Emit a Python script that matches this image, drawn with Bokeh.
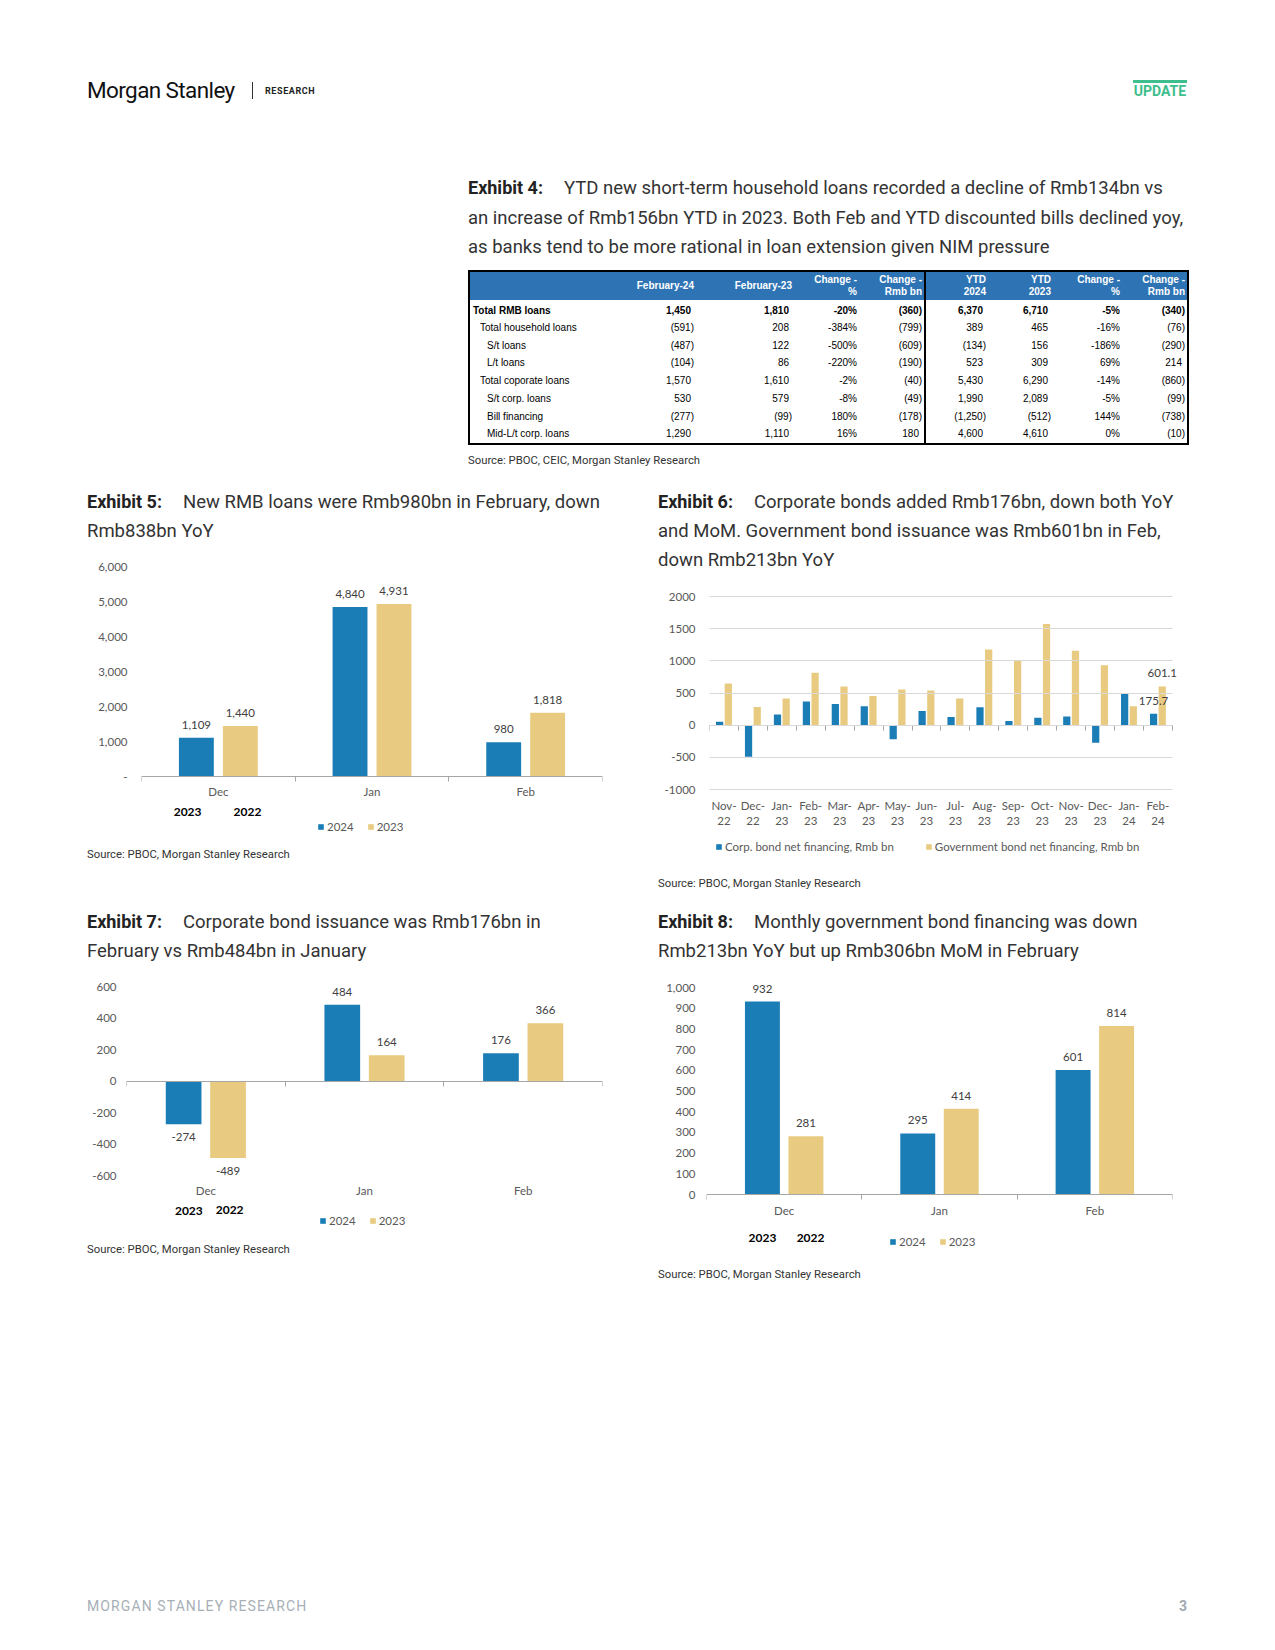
import numpy as np
from bokeh.plotting import figure
from bokeh.models import (Range1d, FixedTicker, NumeralTickFormatter, ColumnDataSource,
                          Legend, LegendItem, Label, Div, Spacer, LinearAxis)
from bokeh.layouts import column, row
from bokeh.transform import dodge
from bokeh.core.properties import value
from bokeh.embed import file_html
from bokeh.resources import INLINE

BLUE = "#1A7DB6"
TAN = "#E8CB80"
AXIS_GRAY = "#A6A6A6"
GRID_GRAY = "#D9D9D9"
TICK_TXT = "#595959"
LBL_TXT = "#404040"
CF = "Lato"

# ---------------- Exhibit 4 (table) ----------------
tbl_rows = ["Total RMB loans", "Total household loans", "S/t loans", "L/t loans",
            "Total coporate loans", "S/t corp. loans", "Bill financing", "Mid-L/t corp. loans"]
tbl_indent = [0, 1, 2, 2, 1, 2, 2, 2]
tbl_head = ["February-24", "February-23", "Change -<br>%", "Change -<br>Rmb bn",
            "YTD<br>2024", "YTD<br>2023", "Change -<br>%", "Change -<br>Rmb bn"]
feb24 = [1450, -591, -487, -104, 1570, 530, -277, 1290]
feb23 = [1810, 208, 122, 86, 1610, 579, -99, 1110]
chg_pct_m = [-20, -384, -500, -220, -2, -8, 180, 16]
chg_rmb_m = [-360, -799, -609, -190, -40, -49, -178, 180]
ytd24 = [6370, 389, -134, 523, 5430, 1990, -1250, 4600]
ytd23 = [6710, 465, 156, 309, 6290, 2089, -512, 4610]
chg_pct_y = [-5, -16, -186, 69, -14, -5, 144, 0]
chg_rmb_y = [-340, -76, -290, 214, -860, -99, -738, -10]

# ---------------- Exhibit 5 ----------------
ex5_cats = ["Dec", "Jan", "Feb"]
ex5_2024 = [1109, 4840, 980]
ex5_2023 = [1440, 4931, 1818]
ex5_ticks = [0, 1000, 2000, 3000, 4000, 5000, 6000]

# ---------------- Exhibit 6 ----------------
ex6_months = ["Nov-22", "Dec-22", "Jan-23", "Feb-23", "Mar-23", "Apr-23", "May-23", "Jun-23",
              "Jul-23", "Aug-23", "Sep-23", "Oct-23", "Nov-23", "Dec-23", "Jan-24", "Feb-24"]
ex6_corp = [53, -489, 164, 366, 330, 294, -220, 219, 126, 277, 63, 115, 136, -274, 484, 175.7]
ex6_gov = [649, 281, 414, 814, 602, 455, 555, 540, 414, 1178, 1000, 1571, 1157, 932, 295, 601.1]
ex6_ticks = [-1000, -500, 0, 500, 1000, 1500, 2000]

# ---------------- Exhibit 7 ----------------
ex7_cats = ["Dec", "Jan", "Feb"]
ex7_2024 = [-274, 484, 176]
ex7_2023 = [-489, 164, 366]
ex7_ticks = [-600, -400, -200, 0, 200, 400, 600]

# ---------------- Exhibit 8 ----------------
ex8_cats = ["Dec", "Jan", "Feb"]
ex8_2024 = [932, 295, 601]
ex8_2023 = [281, 414, 814]
ex8_ticks = [0, 100, 200, 300, 400, 500, 600, 700, 800, 900, 1000]


def chart(cats, s1, s2, names, ticks, W, H, bl, br, fig_top, anchor_top, anchor_bot,
          off, bw, fmt="0,0", zero_dash=False, y_stand=12, x_stand=4, zero_mid=False,
          legend_loc=(0, 0), legend_spacing=13, years=None, labels="all",
          grid_len=None, x_extra=0.0):
    """anchor_top / anchor_bot: (data value, page y in px) used to place the frame."""
    n = len(cats)
    (vt, pyt), (vb, pyb) = anchor_top, anchor_bot
    k = (pyb - pyt) / (vt - vb)                # px per unit
    y1 = vt + (pyt - fig_top) / k
    y0 = vb - (fig_top + H - pyb) / k

    def to_data(py):
        return vb + (pyb - py) / k

    p = figure(width=W, height=H, x_range=Range1d(0, n + x_extra), y_range=Range1d(y0, y1),
               output_backend="svg", toolbar_location=None, x_axis_type=None, y_axis_type=None,
               min_border_left=bl, min_border_right=br, min_border_top=0, min_border_bottom=0)
    p.outline_line_color = None
    p.margin = 0

    yax = LinearAxis(ticker=FixedTicker(ticks=ticks), formatter=NumeralTickFormatter(format=fmt),
                     axis_line_color=None, major_tick_line_color=None, minor_tick_line_color=None,
                     major_tick_in=0, major_tick_out=0, major_label_standoff=y_stand,
                     major_label_text_font=CF, major_label_text_font_size="11.5px",
                     major_label_text_color=TICK_TXT)
    if grid_len:
        yax.major_tick_line_color = GRID_GRAY
        yax.major_tick_in = grid_len
    if zero_dash:
        yax.major_label_overrides = {0: "-"}
    p.add_layout(yax, "left")

    centers = [i + 0.5 for i in range(n)]
    bounds = [float(i) for i in range(n + 1)]
    xax = LinearAxis(fixed_location=min(ticks), bounds=(0, n),
                     ticker=FixedTicker(ticks=centers, minor_ticks=bounds),
                     major_label_overrides={c: lab for c, lab in zip(centers, cats)},
                     major_tick_line_color=None, major_tick_in=0, major_tick_out=0,
                     minor_tick_in=0, minor_tick_out=5, minor_tick_line_color=AXIS_GRAY,
                     axis_line_color=AXIS_GRAY, major_label_standoff=x_stand,
                     major_label_text_font=CF, major_label_text_font_size="11.5px",
                     major_label_text_color=TICK_TXT)
    if zero_mid:
        xax.axis_line_color = None
        xax.minor_tick_line_color = None
        zax = LinearAxis(fixed_location=0, bounds=(0, n),
                         ticker=FixedTicker(ticks=[], minor_ticks=bounds),
                         axis_line_color=AXIS_GRAY, major_tick_line_color=None,
                         minor_tick_in=0, minor_tick_out=5, minor_tick_line_color=AXIS_GRAY,
                         major_label_text_font_size="0px")
        p.add_layout(zax, "below")
    p.add_layout(xax, "below")

    a_off = [-13 if v >= 0 else 13 for v in s1]
    b_off = [-13 if v >= 0 else 13 for v in s2]
    src = ColumnDataSource(dict(x=centers, a=list(s1), b=list(s2),
                                la=[f"{v:,}" for v in s1], lb=[f"{v:,}" for v in s2],
                                oa=a_off, ob=b_off))
    r1 = p.vbar(x=dodge("x", -off), top="a", bottom=0, width=bw, fill_color=BLUE, line_color=None, source=src)
    r2 = p.vbar(x=dodge("x", off), top="b", bottom=0, width=bw, fill_color=TAN, line_color=None, source=src)

    if labels == "all":
        lsrc = src
    else:
        kk = n - 1
        lsrc = ColumnDataSource(dict(x=[centers[kk]], a=[s1[kk]], b=[s2[kk]],
                                     la=[f"{s1[kk]}"], lb=[f"{s2[kk]}"], oa=[-13], ob=[-13]))
    p.text(x=dodge("x", -off), y="a", text="la", y_offset="oa", source=lsrc,
           text_font=value(CF), text_font_size="11.5px", text_color=LBL_TXT,
           text_align="center", text_baseline="middle")
    p.text(x=dodge("x", off), y="b", text="lb", y_offset="ob", source=lsrc,
           text_font=value(CF), text_font_size="11.5px", text_color=LBL_TXT,
           text_align="center", text_baseline="middle")

    leg = Legend(items=[LegendItem(label=names[0], renderers=[r1]),
                        LegendItem(label=names[1], renderers=[r2])],
                 location=legend_loc, orientation="horizontal", glyph_width=7, glyph_height=7,
                 label_height=12, label_standoff=3, spacing=legend_spacing, padding=0, margin=0,
                 border_line_color=None, background_fill_alpha=0,
                 label_text_font=CF, label_text_font_size="11.5px", label_text_color=TICK_TXT)
    p.add_layout(leg)

    if years:
        for (xx, py, t) in years:
            p.add_layout(Label(x=xx, y=to_data(py), text=t, text_font=CF, text_font_size="12px",
                               text_font_style="bold", text_color="#000000",
                               text_align="center", text_baseline="middle"))
    return p


def title_div(num, lines, W, H, pl, pt=7):
    html = (f'<div style="font-family:Roboto,sans-serif;font-size:18.5px;line-height:29px;color:#333;'
            f'white-space:nowrap;padding:{pt}px 0 0 {pl}px;">'
            f'<span style="display:inline-block;width:96px;font-weight:bold;font-size:18px;color:#222;">Exhibit {num}:</span>'
            + "<br>".join(lines) + '</div>')
    return Div(text=html, width=W, height=H, margin=0)


def source_div(txt, W, H, pl, pt):
    html = (f'<div style="font-family:Roboto,sans-serif;font-size:11.3px;line-height:16px;color:#333;'
            f'white-space:nowrap;padding:{pt}px 0 0 {pl}px;">{txt}</div>')
    return Div(text=html, width=W, height=H, margin=0)


# ---------------- top section (header + Exhibit 4) ----------------
def acct(v):
    return f"({-v:,})" if v < 0 else f"{v:,}"


cols = [feb24, feb23, chg_pct_m, chg_rmb_m, ytd24, ytd23, chg_pct_y, chg_rmb_y]
is_pct = [False, False, True, False, False, False, True, False]
base_pad = [4, 4, 4, 2, 4, 4, 4, 2]
col_w = [132, 97, 98, 65, 64, 65, 65, 69, 64]

colgroup = "".join(f'<col style="width:{w}px">' for w in col_w)
head = '<tr class="h"><td></td>' + "".join(
    f'<td style="padding-right:{base_pad[j]}px"{" class=sep" if j == 3 else ""}>{h}</td>'
    for j, h in enumerate(tbl_head)) + "</tr>"
body = ""
for i, name in enumerate(tbl_rows):
    fw = "bold" if i == 0 else "normal"
    rcls = "d f" if i == 0 else "d"
    tr = f'<tr class="{rcls}" style="font-weight:{fw}"><td style="text-align:left;padding-left:{3 + 7 * tbl_indent[i]}px">{name}</td>'
    for j, c in enumerate(cols):
        v = c[i]
        if is_pct[j]:
            txt, pr = f"{v}%", base_pad[j]
        else:
            txt = acct(v)
            pr = base_pad[j] if v < 0 else base_pad[j] + 3
        cls = ' class="sep"' if j == 3 else ""
        tr += f'<td{cls} style="padding-right:{pr}px">{txt}</td>'
    body += tr + "</tr>"

table_html = f'<table class="t4">{colgroup}{head}{body}</table>'

top_html = f"""
<style>
.t4 {{border-collapse:collapse;table-layout:fixed;width:719px;
  font-family:'Liberation Sans Narrow','Arial Narrow','Liberation Sans',Arial,sans-serif;
  font-size:10px;color:#000;border:2px solid #000;}}
.t4 td {{padding:0;text-align:right;white-space:nowrap;}}
.t4 tr.h td {{background:#2E74B5;color:#fff;font-weight:bold;height:29px;line-height:12px;vertical-align:middle;}}
.t4 tr.d td {{height:17.8px;line-height:12px;vertical-align:middle;}}
.t4 tr.f td {{height:19px;padding-top:2px;}}
.t4 td.sep {{border-right:2px solid #000;}}
</style>
<div style="position:relative;width:1259px;height:472px;font-family:Roboto,sans-serif;">
  <div style="position:absolute;left:79px;top:69px;font-size:22.5px;line-height:26px;color:#111;letter-spacing:-0.6px;white-space:nowrap;">Morgan Stanley</div>
  <div style="position:absolute;left:244px;top:74px;width:1px;height:17px;background:#333;"></div>
  <div style="position:absolute;left:257px;top:77px;font-size:9px;line-height:12px;font-weight:bold;letter-spacing:0.6px;color:#222;">RESEARCH</div>
  <div style="position:absolute;left:1125px;top:72px;width:54px;height:3px;background:#3DBE8C;"></div>
  <div style="position:absolute;left:1125px;top:75px;width:54px;font-size:14px;line-height:16px;font-weight:bold;color:#3DBE8C;text-align:center;">UPDATE</div>
  <div style="position:absolute;left:460px;top:165px;font-size:18.5px;line-height:29.5px;color:#333;white-space:nowrap;">
    <span style="display:inline-block;width:96px;font-weight:bold;font-size:18px;color:#222;">Exhibit 4:</span>YTD new short-term household loans recorded a decline of Rmb134bn vs<br>an increase of Rmb156bn YTD in 2023. Both Feb and YTD discounted bills declined yoy,<br>as banks tend to be more rational in loan extension given NIM pressure</div>
  <div style="position:absolute;left:460px;top:262px;">{table_html}</div>
  <div style="position:absolute;left:460px;top:445px;font-size:11.3px;line-height:16px;color:#333;white-space:nowrap;">Source: PBOC, CEIC, Morgan Stanley Research</div>
</div>
"""
top_div = Div(text=top_html, width=1259, height=472, margin=0)

# ---------------- Exhibit 5 ----------------
t5 = title_div(5, ["New RMB loans were Rmb980bn in February, down", "Rmb838bn YoY"], 560, 68, 7)
p5 = chart(ex5_cats, ex5_2024, ex5_2023, ["2024", "2023"], ex5_ticks, 560, 292, 61, 38,
           548, (6000, 566), (0, 776), 0.143, 0.227, fmt="0,0", zero_dash=True, y_stand=14,
           x_stand=3, legend_loc=(176, 7),
           years=[(0.30, 811, "2023"), (0.69, 811, "2022")])
s5 = source_div("Source: PBOC, Morgan Stanley Research", 560, 60, 7, 7)

# ---------------- Exhibit 6 ----------------
t6 = title_div(6, ["Corporate bonds added Rmb176bn, down both YoY",
                   "and MoM. Government bond issuance was Rmb601bn in Feb,",
                   "down Rmb213bn YoY"], 627, 100, 18)
p6 = chart([m.replace("-", "-\n") for m in ex6_months], ex6_corp, ex6_gov,
           ["Corp. bond net financing, Rmb bn", "Government bond net financing, Rmb bn"],
           ex6_ticks, 627, 290, 69, 85, 580, (2000, 596), (-1000, 789), 0.15, 0.25,
           fmt="0", y_stand=14, x_stand=4, zero_mid=True, legend_loc=(6, 17),
           legend_spacing=31, labels="last", grid_len=463, x_extra=0.35)
s6 = source_div("Source: PBOC, Morgan Stanley Research", 627, 30, 18, 6)

# ---------------- Exhibit 7 ----------------
t7 = title_div(7, ["Corporate bond issuance was Rmb176bn in", "February vs Rmb484bn in January"], 560, 70, 7)
p7 = chart(ex7_cats, ex7_2024, ex7_2023, ["2024", "2023"], ex7_ticks, 560, 265, 46, 38,
           970, (600, 986), (-600, 1175), 0.14, 0.225, fmt="0", y_stand=10, x_stand=3,
           zero_mid=True, legend_loc=(193, 8),
           years=[(0.393, 1210, "2023"), (0.65, 1209, "2022")])
s7 = source_div("Source: PBOC, Morgan Stanley Research", 560, 65, 7, 7)

# ---------------- Exhibit 8 ----------------
t8 = title_div(8, ["Monthly government bond financing was down",
                   "Rmb213bn YoY but up Rmb306bn MoM in February"], 627, 70, 18)
p8 = chart(ex8_cats, ex8_2024, ex8_2023, ["2024", "2023"], ex8_ticks, 627, 290, 66, 95,
           970, (1000, 987), (0, 1194), 0.14, 0.225, fmt="0,0", y_stand=11, x_stand=4,
           legend_loc=(183, 12),
           years=[(0.36, 1237, "2023"), (0.67, 1237, "2022")])
s8 = source_div("Source: PBOC, Morgan Stanley Research", 627, 40, 18, 7)

footer_html = """
<div style="position:relative;width:1259px;height:342px;font-family:Roboto,sans-serif;">
  <div style="position:absolute;left:79px;top:298px;font-size:14px;line-height:16px;letter-spacing:1.1px;color:#A7AFB6;white-space:nowrap;">MORGAN STANLEY RESEARCH</div>
  <div style="position:absolute;left:1167px;top:298px;width:12px;font-size:14px;line-height:16px;color:#A0A8AF;font-weight:bold;text-align:right;">3</div>
</div>"""
footer = Div(text=footer_html, width=1259, height=342, margin=0)

row2 = row(Spacer(width=72, height=420, margin=0),
           column(t5, p5, s5, spacing=0), column(t6, p6, s6, spacing=0), spacing=0)
row3 = row(Spacer(width=72, height=400, margin=0),
           column(t7, p7, s7, spacing=0), column(t8, p8, s8, spacing=0), spacing=0)
inner = column(top_div, row2, row3, footer, spacing=0)
page = row(Spacer(width=8, height=1642, margin=0),
           column(Spacer(width=1259, height=8, margin=0), inner, spacing=0), spacing=0)

open("out.html", "w").write(file_html(page, INLINE, title="Morgan Stanley Research"))
